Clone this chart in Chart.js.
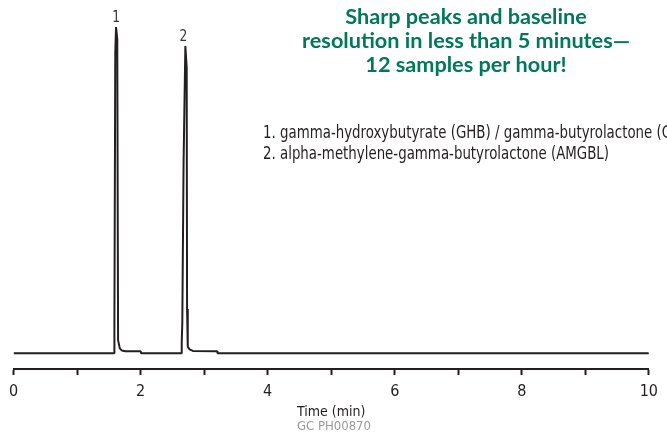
<!DOCTYPE html>
<html>
<head>
<meta charset="utf-8">
<script src="https://cdn.jsdelivr.net/npm/chart.js@4"></script>
<style>
  html, body { margin: 0; padding: 0; background: #ffffff; }
  #wrap { width: 667px; height: 441px; position: relative; }
</style>
</head>
<body>
<div id="wrap"><canvas id="c" width="667" height="441"></canvas></div>
<script>
// ---- data ----
const retentionTimes = [0, 1.584, 1.584, 1.590, 1.601, 1.613, 1.632, 1.645, 1.672, 1.705, 1.76, 2.0, 2.008,
                        2.647, 2.647, 2.656, 2.676, 2.704, 2.725, 2.731, 2.742, 2.771, 2.822, 3.204, 3.212, 10];
const detectorSignal = [0, 0, 7.9, 9.0, 95, 102.8, 99, 4.1, 1.5, 0.8, 0.6, 0.6, 0,
                        0, 3.6, 9.4, 60, 96.8, 90, 13.9, 2.0, 1.2, 0.7, 0.6, 0, 0];
const peakNumbers = ['1', '2'];
const xTickLabels = ['0', '', '2', '', '4', '', '6', '', '8', '', '10'];
const headlineLines = ['Sharp peaks and baseline', 'resolution in less than 5 minutes\u2014', '12 samples per hour!'];
const compoundList = ['1. gamma-hydroxybutyrate (GHB) / gamma-butyrolactone (GBL)',
                      '2. alpha-methylene-gamma-butyrolactone (AMGBL)'];
const axisTitle = 'Time (min)';
const figureCode = 'GC PH00870';

const NARROW = '"Liberation Sans Narrow", "DejaVu Sans Condensed", "Roboto", sans-serif';
const INK = '#231f20';

const points = retentionTimes.map((t, i) => ({ x: t, y: detectorSignal[i] }));

// apex indices (local maxima of the large peaks)
const apexIdx = [];
for (let i = 1; i < detectorSignal.length - 1; i++) {
  if (detectorSignal[i] > 50 && detectorSignal[i] >= detectorSignal[i - 1] && detectorSignal[i] >= detectorSignal[i + 1]) apexIdx.push(i);
}

function condensedText(ctx, text, x, y, sx) {
  ctx.save();
  ctx.translate(x, y);
  ctx.scale(sx, 1);
  ctx.fillText(text, 0, 0);
  ctx.restore();
}

const annotations = {
  id: 'annotations',
  afterDraw(chart) {
    const { ctx, scales: { x, y } } = chart;
    ctx.save();
    // peak numbers
    ctx.font = '16px ' + NARROW;
    ctx.fillStyle = '#333333';
    ctx.textAlign = 'center';
    ctx.textBaseline = 'middle';
    apexIdx.forEach((idx, k) => {
      const px = x.getPixelForValue(retentionTimes[idx]);
      const py = y.getPixelForValue(detectorSignal[idx]);
      condensedText(ctx, peakNumbers[k], px + (k === 0 ? 0 : -2), py - 9, 0.85);
    });
    // headline
    ctx.fillStyle = '#00785a';
    ctx.textBaseline = 'alphabetic';
    ctx.font = 'bold 100px Lato, "Open Sans", sans-serif';
    const w = ctx.measureText(headlineLines[1]).width;
    const size = 100 * 328 / w;
    ctx.font = 'bold ' + size.toFixed(2) + 'px Lato, "Open Sans", sans-serif';
    headlineLines.forEach((line, i) => ctx.fillText(line, 466, 24 + i * 24));
    // compound list (condensed to the reference width)
    ctx.fillStyle = INK;
    ctx.textAlign = 'left';
    ctx.font = '18px ' + NARROW;
    const nat = ctx.measureText(compoundList[1]).width;
    const sx = 346 / nat;
    compoundList.forEach((line, i) => condensedText(ctx, line, 263, 138 + i * 20.5, sx));
    ctx.restore();
  }
};

new Chart(document.getElementById('c'), {
  type: 'scatter',
  data: {
    datasets: [{
      data: points,
      showLine: true,
      borderColor: INK,
      borderWidth: 2,
      borderJoinStyle: 'bevel',
      pointRadius: 0,
      tension: 0,
      fill: false
    }]
  },
  options: {
    responsive: false,
    animation: false,
    layout: { padding: { top: 20, left: 11, right: 10, bottom: 0 } },
    plugins: {
      legend: { display: false },
      tooltip: { enabled: false },
      title: { display: false },
      subtitle: {
        display: true,
        text: figureCode,
        position: 'bottom',
        color: '#9a9a9a',
        font: { family: NARROW, size: 13, lineHeight: 1, weight: 'normal' },
        padding: { top: 0.5, bottom: 7.5 }
      }
    },
    scales: {
      x: {
        type: 'linear',
        min: 0,
        max: 10,
        afterFit: (scale) => { scale.height = 51; },
        ticks: {
          stepSize: 1,
          autoSkip: false,
          maxRotation: 0,
          padding: 9,
          color: INK,
          font: { family: NARROW, size: 16, lineHeight: 1 },
          callback: (v, i) => xTickLabels[i]
        },
        grid: { drawOnChartArea: false, drawTicks: true, tickLength: 6, tickWidth: 2, tickColor: INK, color: INK },
        border: { display: true, color: INK, width: 2 },
        title: {
          display: true,
          text: axisTitle,
          color: INK,
          font: { family: NARROW, size: 14, lineHeight: 1 },
          padding: { top: 5, bottom: 1 }
        }
      },
      y: {
        display: false,
        min: -5,
        max: 105
      }
    }
  },
  plugins: [annotations]
});
</script>
</body>
</html>
